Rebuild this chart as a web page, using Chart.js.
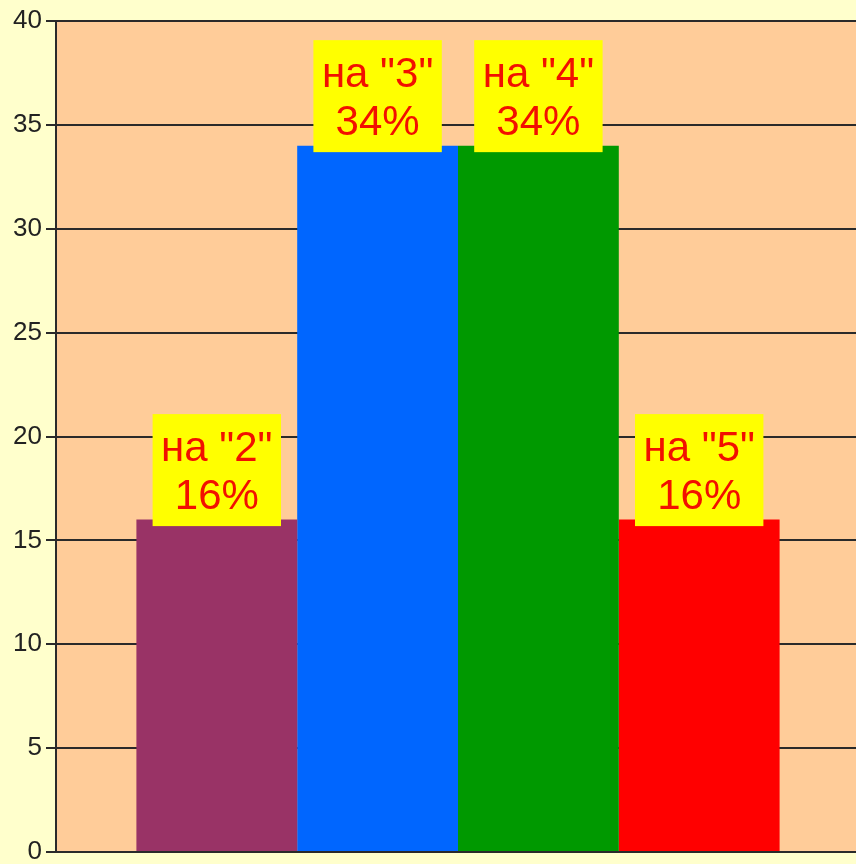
<!DOCTYPE html>
<html>
<head>
<meta charset="utf-8">
<script src="https://cdn.jsdelivr.net/npm/chart.js@4.4.1/dist/chart.umd.min.js"></script>
<style>
  html, body { margin: 0; padding: 0; background: #FFFFCC; overflow: hidden; }
  #wrap { width: 856px; height: 864px; overflow: hidden; }
  canvas { display: block; }
</style>
</head>
<body>
<div id="wrap"><canvas id="chart" width="860" height="864"></canvas></div>
<script>
  // data
  const grades   = ['на "2"', 'на "3"', 'на "4"', 'на "5"'];
  const counts   = [16, 34, 34, 16];
  const percents = ['16%', '34%', '34%', '16%'];
  const colors   = ['#993366', '#0066FF', '#009900', '#FF0000'];
  const yTicks   = { min: 0, max: 40, step: 5 };

  const FONT = "'Liberation Sans', Arial, sans-serif";

  // peach plot area
  const plotBg = {
    id: 'plotBg',
    beforeDraw(chart) {
      const { ctx, chartArea: a } = chart;
      ctx.save();
      ctx.fillStyle = '#FFCC99';
      ctx.fillRect(a.left, a.top, a.right - a.left, a.bottom - a.top);
      ctx.restore();
    }
  };

  // yellow label boxes above each bar
  const boxLabels = {
    id: 'boxLabels',
    afterDatasetsDraw(chart) {
      const ctx = chart.ctx;
      ctx.save();
      ctx.font = '42px ' + FONT;
      ctx.textAlign = 'center';
      ctx.textBaseline = 'alphabetic';
      chart.data.datasets.forEach((ds, i) => {
        const bar = chart.getDatasetMeta(i).data[0];
        if (!bar) return;
        const lines = [grades[i], percents[i]];
        const w = Math.max(...lines.map(t => ctx.measureText(t).width)) + 17;
        const h = 112;
        const top = bar.y + 6.5 - h;
        ctx.fillStyle = '#FFFF00';
        ctx.fillRect(bar.x - w / 2, top, w, h);
        ctx.fillStyle = '#F21000';
        ctx.fillText(lines[0], bar.x, top + 47);
        ctx.fillText(lines[1], bar.x, top + 95);
      });
      ctx.restore();
    }
  };

  new Chart(document.getElementById('chart'), {
    type: 'bar',
    data: {
      labels: [''],
      datasets: grades.map((g, i) => ({
        label: g,
        data: [counts[i]],
        backgroundColor: colors[i],
        borderWidth: 0,
        barPercentage: 1,
        categoryPercentage: 0.8
      }))
    },
    options: {
      responsive: false,
      animation: false,
      layout: { padding: { top: 21, bottom: 12, left: 0, right: 0 } },
      plugins: { legend: { display: false }, tooltip: { enabled: false } },
      scales: {
        x: { display: false },
        y: {
          min: yTicks.min,
          max: yTicks.max,
          ticks: {
            stepSize: yTicks.step,
            padding: 4,
            color: '#222',
            font: { family: FONT, size: 26 }
          },
          grid: { color: '#2a2a2a', lineWidth: 2, tickLength: 10, tickColor: '#2a2a2a' },
          border: { color: '#2a2a2a', width: 2 },
          afterFit(scale) {
            scale.width = 56;
            scale.paddingTop = 0;
            scale.paddingBottom = 0;
          }
        }
      }
    },
    plugins: [plotBg, boxLabels]
  });
</script>
</body>
</html>
